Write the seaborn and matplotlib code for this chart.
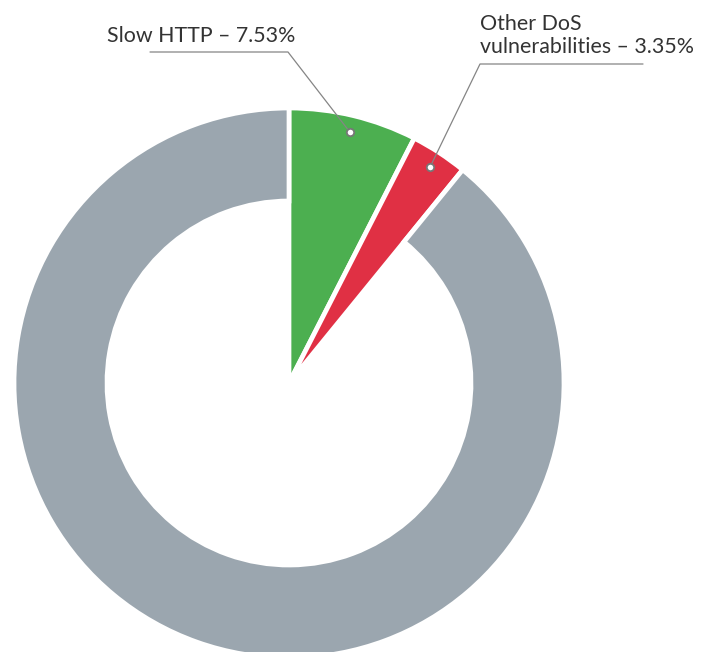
import numpy as np
import matplotlib.pyplot as plt
import seaborn as sns

# Share of DoS-related findings (%)
labels = ["Slow HTTP", "Other DoS vulnerabilities", "Other"]
shares = [7.53, 3.35, 89.12]
colors = ["#4caf50", "#e03044", "#9ba6af"]

sns.set_style("white")
plt.rcParams['font.family'] = ['Lato', 'DejaVu Sans']

W, H = 713, 652
cx, cy, R = 289, 383, 275   # pie centre and radius, in pixels


def px(x, y):
    # pixel position (y down) -> data coords of the pie axes
    return (x - cx) / R, (cy - y) / R


fig = plt.figure(figsize=(W / 100, H / 100), dpi=100)
ax = fig.add_axes([0, 0, 1, 1])

wedges, _ = ax.pie(shares, colors=colors, startangle=90, counterclock=False,
                   wedgeprops=dict(edgecolor="white", linewidth=3.4))
# only the big grey slice is a ring
wedges[2].set_width(1 - 182 / 275)

ax.set_xlim(-cx / R, (W - cx) / R)
ax.set_ylim(-(H - cy) / R, cy / R)
ax.axis('off')

line_col = "#858585"
text_col = "#333333"
fs = 15.4

# leader lines: dot on the slice -> elbow -> end of horizontal rule
leaders = [
    dict(elbow=(288, 52), end=(150, 52)),
    dict(elbow=(480, 64), end=(643, 64)),
]

for w, ld in zip(wedges[:2], leaders):
    mid = np.radians((w.theta1 + w.theta2) / 2)
    dot = w.r * 0.94 * np.cos(mid), w.r * 0.94 * np.sin(mid)
    ex, ey = px(*ld['elbow'])
    fx, fy = px(*ld['end'])
    ax.plot([dot[0], ex, fx], [dot[1], ey, fy], color=line_col, lw=0.9, zorder=5)
    ax.scatter([dot[0]], [dot[1]], s=28, facecolor="white", edgecolor="#777777",
               linewidth=1.3, zorder=6)

txt = dict(fontsize=fs, color=text_col, ha='left', va='baseline')
ax.text(*px(107, 42), f"{labels[0]} – {shares[0]:.2f}%", **txt)
ax.text(*px(480, 30), "Other DoS", **txt)
ax.text(*px(480, 53), f"vulnerabilities – {shares[1]:.2f}%", **txt)

fig.savefig("out.png", dpi=100)
